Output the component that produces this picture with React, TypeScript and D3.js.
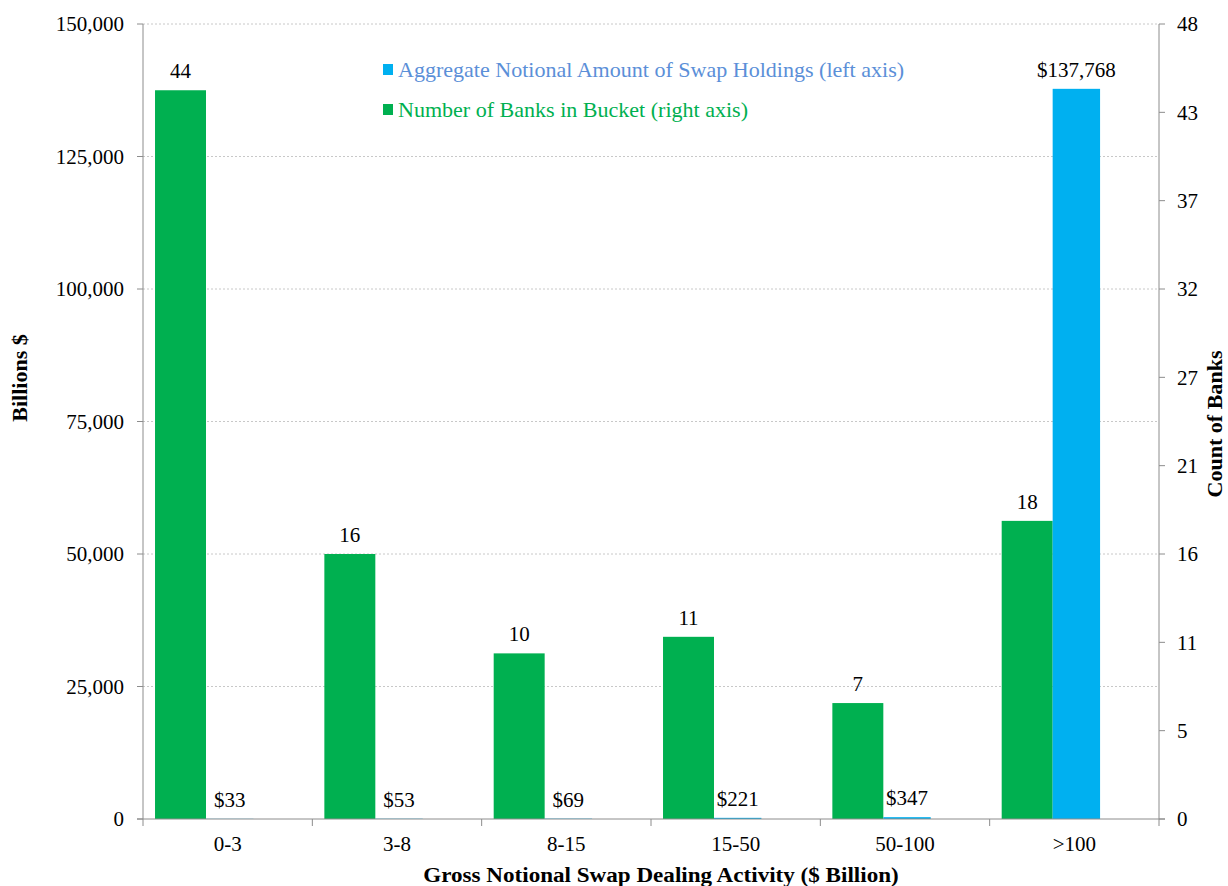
import React from "react";
import * as d3 from "d3";

// Swap dealing activity buckets ($ billion of gross notional)
const categories = ["0-3", "3-8", "8-15", "15-50", "50-100", ">100"];
// Aggregate notional amount of swap holdings, billions $ (left axis)
const notional = [33, 53, 69, 221, 347, 137768];
// Number of banks in each bucket (right axis)
const bankCounts = [44, 16, 10, 11, 7, 18];
// Left axis ticks
const leftTicks = [0, 25000, 50000, 75000, 100000, 125000, 150000];
// Right axis: 0..48 split into nine steps
const rightMax = 48;
const rightTicks = d3.range(0, 10).map((i) => (i * rightMax) / 9);

const W = 1228;
const H = 886;
const M = { left: 143, right: 1159, top: 24, bottom: 819 };

const BLUE = "#00b0f0";
const GREEN = "#00b050";
const AXIS = "#8c8c8c";
const FONT = "'Liberation Serif', 'Times New Roman', serif";
const FS = 21;

type TProps = {
  x: number;
  y: number;
  children: React.ReactNode;
  anchor?: "start" | "middle" | "end";
  rotate?: number;
  sx?: number;
  size?: number;
  fill?: string;
  bold?: boolean;
  dy?: string;
};

// Text with an optional horizontal stretch along its reading direction
function T({ x, y, children, anchor = "start", rotate = 0, sx = 1, size = FS, fill = "#000", bold, dy }: TProps) {
  return (
    <text
      transform={`translate(${x},${y}) rotate(${rotate}) scale(${sx},1)`}
      textAnchor={anchor}
      fontSize={size}
      fill={fill}
      fontWeight={bold ? "bold" : "normal"}
      dy={dy}
    >
      {children}
    </text>
  );
}

export default function App() {
  const x = d3.scaleBand<string>().domain(categories).range([M.left, M.right]).padding(0);
  const bw = x.bandwidth();
  const yL = d3.scaleLinear().domain([0, 150000]).range([M.bottom, M.top]);
  const yR = d3.scaleLinear().domain([0, rightMax]).range([M.bottom, M.top]);
  const fmt = d3.format(",");

  const greenX = (c: string) => (x(c) as number) + bw * 0.071;
  const greenW = bw * 0.301;
  const blueX = (c: string) => (x(c) as number) + bw * 0.372;
  const blueW = bw * 0.28;

  const boundaries = categories.map((c) => x(c) as number).concat([M.right]);

  return (
    <svg
      width={W}
      height={H}
      style={{ position: "absolute", left: 0, top: 0, background: "#fff" }}
      fontFamily={FONT}
    >
      {/* gridlines */}
      {leftTicks
        .filter((t) => t > 0)
        .map((t) => (
          <line
            key={"g" + t}
            x1={M.left}
            x2={M.right}
            y1={yL(t)}
            y2={yL(t)}
            stroke="#c8c8c8"
            strokeWidth={1}
            strokeDasharray="2,2"
          />
        ))}

      {/* bank count bars */}
      {categories.map((c, i) => (
        <rect
          key={"gr" + c}
          x={greenX(c)}
          y={yR(bankCounts[i])}
          width={greenW}
          height={M.bottom - yR(bankCounts[i])}
          fill={GREEN}
        />
      ))}
      {/* notional bars */}
      {categories.map((c, i) => (
        <rect
          key={"bl" + c}
          x={blueX(c)}
          y={yL(notional[i])}
          width={blueW}
          height={Math.max(M.bottom - yL(notional[i]), 0)}
          fill={BLUE}
        />
      ))}

      {/* value labels */}
      {categories.map((c, i) => (
        <T key={"gl" + c} x={greenX(c) + greenW / 2} y={yR(bankCounts[i]) - 12} anchor="middle">
          {bankCounts[i]}
        </T>
      ))}
      {categories.map((c, i) => (
        <T key={"bll" + c} x={blueX(c) + blueW / 2} y={yL(notional[i]) - 12} anchor="middle">
          {"$" + fmt(notional[i])}
        </T>
      ))}

      {/* axes */}
      <line x1={M.left} x2={M.left} y1={M.top} y2={M.bottom} stroke={AXIS} />
      <line x1={M.right} x2={M.right} y1={M.top} y2={M.bottom} stroke={AXIS} />
      <line x1={M.left - 6} x2={M.right + 6} y1={M.bottom} y2={M.bottom} stroke={AXIS} />

      {leftTicks.map((t) => (
        <g key={"lt" + t}>
          <line x1={M.left - 6} x2={M.left} y1={yL(t)} y2={yL(t)} stroke={AXIS} />
          <T x={M.left - 19} y={yL(t)} dy="0.35em" anchor="end">
            {fmt(t)}
          </T>
        </g>
      ))}
      {rightTicks.map((t) => (
        <g key={"rt" + t}>
          <line x1={M.right} x2={M.right + 6} y1={yR(t)} y2={yR(t)} stroke={AXIS} />
          <T x={M.right + 18} y={yR(t)} dy="0.35em">
            {Math.round(t)}
          </T>
        </g>
      ))}
      {boundaries.map((b, i) => (
        <line key={"bt" + i} x1={b} x2={b} y1={M.bottom} y2={M.bottom + 7} stroke={AXIS} />
      ))}
      {categories.map((c) => (
        <T key={"cl" + c} x={(x(c) as number) + bw / 2} y={851} anchor="middle">
          {c}
        </T>
      ))}

      {/* axis titles */}
      <T x={661} y={882} anchor="middle" bold sx={1.1}>
        Gross Notional Swap Dealing Activity ($ Billion)
      </T>
      <T x={27} y={378} anchor="middle" rotate={-90} bold sx={1.05}>
        Billions $
      </T>
      <T x={1222} y={424} anchor="middle" rotate={-90} bold sx={1.05}>
        Count of Banks
      </T>

      {/* legend */}
      <rect x={383} y={64} width={10} height={11} fill={BLUE} />
      <T x={398} y={77} fill="#5b8fd8" sx={1.05}>
        Aggregate Notional Amount of Swap Holdings (left axis)
      </T>
      <rect x={383} y={104} width={10} height={11} fill={GREEN} />
      <T x={398} y={117} fill={GREEN} sx={1.05}>
        Number of Banks in Bucket (right axis)
      </T>
    </svg>
  );
}
